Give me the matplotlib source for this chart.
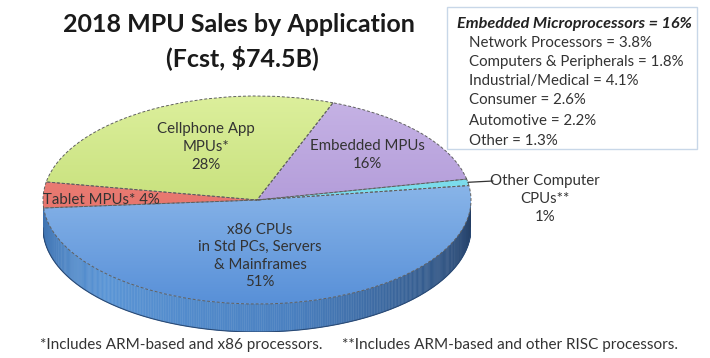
import numpy as np
import matplotlib
matplotlib.use("Agg")
import matplotlib.pyplot as plt
from matplotlib.colors import LinearSegmentedColormap, to_rgb
from matplotlib.collections import PolyCollection
from matplotlib.patches import Rectangle, ConnectionPatch

# ---------------- data ----------------
categories = ["Other Computer CPUs**", "Embedded MPUs", "Cellphone App MPUs*",
              "Tablet MPUs*", "x86 CPUs in Std PCs, Servers & Mainframes"]
shares = [1, 16, 28, 4, 51]
slice_labels = ["Other Computer\nCPUs**\n1%", "Embedded MPUs\n16%",
                "Cellphone App\nMPUs*\n28%", "Tablet MPUs* 4%",
                "x86 CPUs\nin Std PCs, Servers\n& Mainframes\n51%"]
embedded_items = ["Network Processors", "Computers & Peripherals",
                  "Industrial/Medical", "Consumer", "Automotive", "Other"]
embedded_values = [3.8, 1.8, 4.1, 2.6, 2.2, 1.3]
embedded_total = 16
title_lines = ["2018 MPU Sales by Application", "(Fcst, $74.5B)"]
footnotes = ["*Includes ARM-based and x86 processors.",
             "**Includes ARM-based and other RISC processors."]

# ---------------- style ----------------
FONT = ["Lato", "DejaVu Sans"]
plt.rcParams['font.family'] = FONT
TXT = "#333333"
top_grad = [("#93e6f2", "#5ccfe4"),   # other
            ("#c6b3e5", "#a288cf"),   # embedded
            ("#dcef9c", "#b5d460"),   # cellphone
            ("#f08d84", "#df625a"),   # tablet
            ("#add0f5", "#5890d8")]   # x86
side_cols = ["#3fa8bd", "#7a62a8", "#8aa848", "#c25a54", None]
x86_side = [(0.0, "#3b6eab"), (0.25, "#5a95d6"), (0.55, "#4a80c0"), (1.0, "#233d63")]

W, H = 710, 358
cx, cy, rx, ry, depth = 257, 200, 214, 104, 28
d = depth / ry
startangle = 8

fig = plt.figure(figsize=(W / 100, H / 100), dpi=100)

# pie axes: unit circle maps onto the ellipse
left = (cx - rx) / W
bottom = (H - (cy + ry + depth)) / H
pax = fig.add_axes([left, bottom, 2 * rx / W, (2 * ry + depth) / H])
wedges, _ = pax.pie(shares, startangle=startangle, counterclock=True, radius=1,
                    center=(0, 0),
                    wedgeprops=dict(linewidth=0.7, edgecolor="#606060",
                                    linestyle=(0, (3, 2))))
pax.set_xlim(-1, 1)
pax.set_ylim(-1 - d, 1)
pax.set_aspect("auto")
pax.axis("off")

# side walls (front half only), computed from the slice angles
bounds = startangle + np.concatenate([[0], np.cumsum(shares)]) / sum(shares) * 360
x86_cmap = LinearSegmentedColormap.from_list("x86side", x86_side)
for i in range(len(shares)):
    a0, a1 = bounds[i], bounds[i + 1]
    for k in (0, 1):
        lo, hi = max(a0, 180 + 360 * k), min(a1, 360 + 360 * k)
        if hi <= lo:
            continue
        th = np.linspace(lo, hi, max(2, int((hi - lo) * 2)))
        polys, cols = [], []
        for t0, t1 in zip(th[:-1], th[1:]):
            r0, r1 = np.radians(t0), np.radians(t1)
            polys.append([(np.cos(r0), np.sin(r0)), (np.cos(r1), np.sin(r1)),
                          (np.cos(r1), np.sin(r1) - d), (np.cos(r0), np.sin(r0) - d)])
            tm = (((t0 + t1) / 2) % 360 - 180) / 180
            cols.append(x86_cmap(tm) if side_cols[i] is None else to_rgb(side_cols[i]))
        pax.add_collection(PolyCollection(polys, facecolors=cols, edgecolors=cols,
                                          linewidths=0.3, zorder=0.5))
# bottom rim line
th = np.radians(np.linspace(180, 360, 200))
pax.plot(np.cos(th), np.sin(th) - d, color="#2a4a75", lw=0.8, zorder=0.6)

# gradient-filled top faces
grad = np.linspace(0, 1, 256).reshape(-1, 1)
for i, w in enumerate(wedges):
    cmap = LinearSegmentedColormap.from_list(f"g{i}", list(top_grad[i]))
    im = pax.imshow(grad, cmap=cmap, extent=(-1, 1, -1, 1), origin="upper",
                    aspect="auto", zorder=1, interpolation="bilinear")
    im.set_clip_path(w)
    w.set_facecolor("none")
    w.set_zorder(2)
pax.set_xlim(-1, 1)
pax.set_ylim(-1 - d, 1)

# overlay axes in pixel coordinates for text
ov = fig.add_axes([0, 0, 1, 1])
ov.set_xlim(0, W)
ov.set_ylim(H, 0)
ov.axis("off")

ov.text(239, 25, title_lines[0], ha="center", va="center", fontsize=18,
        fontweight="bold", color="#1a1a1a")
ov.text(242, 58, title_lines[1], ha="center", va="center", fontsize=18,
        fontweight="bold", color="#1a1a1a")

lab_kw = dict(fontsize=10.8, color=TXT, linespacing=1.32)
ov.text(206, 147, slice_labels[2], ha="center", va="center", **lab_kw)
ov.text(367, 155, slice_labels[1], ha="center", va="center", **lab_kw)
ov.text(43, 200, slice_labels[3], ha="left", va="center", **lab_kw)
ov.text(260, 256, slice_labels[4], ha="center", va="center", **lab_kw)
ov.text(545, 199, slice_labels[0], ha="center", va="center", **lab_kw)

mid = np.radians((bounds[0] + bounds[1]) / 2)
con = ConnectionPatch(xyA=(np.cos(mid), np.sin(mid)), coordsA=pax.transData,
                      xyB=(493, 181), coordsB=ov.transData, color="#333333", lw=0.9)
fig.add_artist(con)

# embedded breakdown box
ov.add_patch(Rectangle((447, 7), 250, 142, facecolor="white", edgecolor="#c8d7e8", lw=1.0))
ov.text(457, 24, f"Embedded Microprocessors = {embedded_total}%", ha="left", va="center",
        fontsize=11.7, fontweight="bold", fontstyle="italic", color="#222222")
ys = [43, 62, 81, 100, 121, 141]
for name, v, y in zip(embedded_items, embedded_values, ys):
    ov.text(469, y, f"{name} = {v}%", ha="left", va="center", fontsize=10.8, color=TXT)

ov.text(40, 345, footnotes[0], ha="left", va="center", fontsize=11, color=TXT)
ov.text(342, 345, footnotes[1], ha="left", va="center", fontsize=11, color=TXT)

fig.savefig("out.png", dpi=100)
